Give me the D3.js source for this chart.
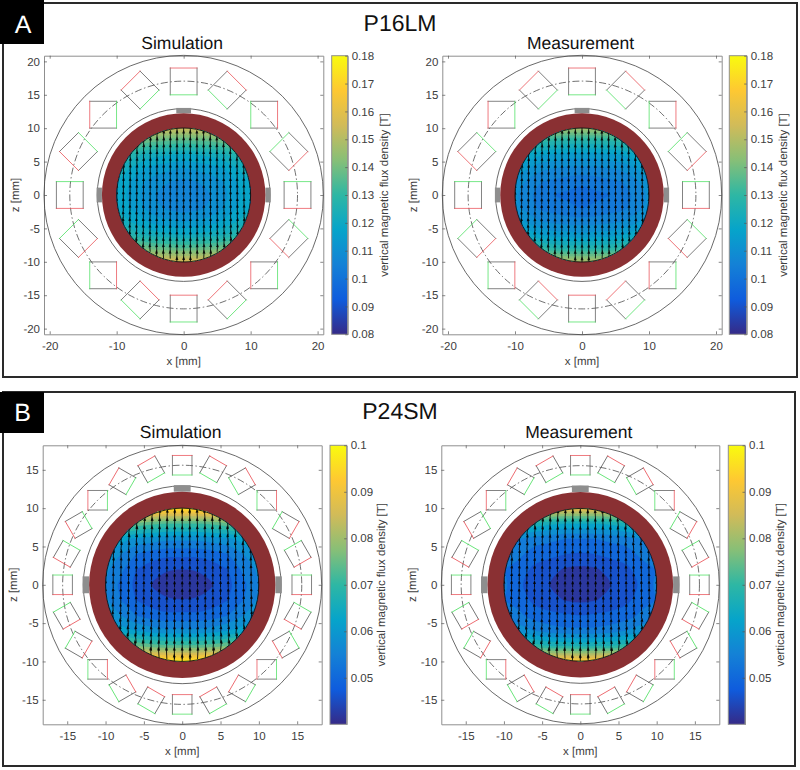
<!DOCTYPE html>
<html><head><meta charset="utf-8">
<script src="https://cdn.jsdelivr.net/npm/d3@7"></script>
<style>html,body{margin:0;padding:0;background:#fff}svg{display:block}text{font-family:"Liberation Sans",Arial,sans-serif;text-rendering:geometricPrecision}</style>
</head><body><svg id="c" width="800" height="770"></svg>
<script>
// ---------- data ----------
const figureTitles = ["P16LM", "P24SM"];
const panelLetters = ["A", "B"];
const plotTitles = ["Simulation", "Measurement"];
const colorbarLabel = "vertical magnetic flux density [T]";
const parulaStops = ["#352a87","#0f5cdd","#1481d6","#06a4ca","#2eb7a4","#87bf77","#d1bb59","#fec832","#f9fb0e"];
const ticksP16 = [-20,-15,-10,-5,0,5,10,15,20];
const xTicksP16 = [-20,-10,0,10,20];
const ticksP24 = [-15,-10,-5,0,5,10,15];
const cbarTicksP16 = [0.08,0.09,0.10,0.11,0.12,0.13,0.14,0.15,0.16,0.17,0.18];
const cbarTicksP24 = [0.05,0.06,0.07,0.08,0.09,0.10];
const magnetAnglesP16 = [0,22.5,45,67.5,90,112.5,135,157.5,180,202.5,225,247.5,270,292.5,315,337.5];
const magnetAnglesP24 = [0,15,30,45,60,75,90,105,120,135,150,165,180,195,210,225,240,255,270,285,300,315,330,345];
const gridAxis = [-12,-10,-8,-6,-4,-2,0,2,4,6,8,10,12];
const arrowAxis = [-10,-9,-8,-7,-6,-5,-4,-3,-2,-1,0,1,2,3,4,5,6,7,8,9,10];
// arrow lean in degrees at x = 10 mm, one value per row of arrowAxis (z = -10 ... 10)
const leanP16 = [-9,-8,-7,-6,-5,-4.5,-4,-3,-2,-1,0,1,2,3,4,4.5,5,6,7,8,9];
const leanP24 = [-16,-14,-12,-10,-8,-7,-5,-4,-2.5,-1,0,1,2.5,4,5,7,8,10,12,14,16];

const fieldP16Sim = [
[.175,.170,.166,.163,.161,.160,.160,.160,.161,.163,.166,.170,.175],
[.166,.161,.158,.156,.155,.154,.154,.154,.155,.156,.158,.161,.166],
[.150,.144,.141,.138,.136,.135,.134,.135,.136,.138,.141,.144,.150],
[.136,.131,.127,.123,.121,.120,.119,.120,.121,.123,.127,.131,.136],
[.130,.124,.120,.116,.114,.113,.112,.113,.114,.116,.120,.124,.130],
[.126,.120,.116,.112,.110,.108,.107,.108,.110,.112,.116,.120,.126],
[.125,.119,.115,.111,.108,.106,.105,.106,.108,.111,.115,.119,.125],
[.126,.120,.116,.112,.109,.107,.106,.107,.109,.112,.116,.120,.126],
[.130,.125,.120,.117,.114,.113,.112,.113,.114,.117,.120,.125,.130],
[.137,.132,.128,.124,.122,.121,.120,.121,.122,.124,.128,.132,.137],
[.152,.146,.143,.140,.138,.137,.136,.137,.138,.140,.143,.146,.152],
[.169,.164,.161,.159,.158,.157,.157,.157,.158,.159,.161,.164,.169],
[.178,.173,.169,.166,.164,.163,.163,.163,.164,.166,.169,.173,.178]];
const fieldP16Meas = [
[.170,.165,.160,.157,.155,.154,.154,.154,.155,.157,.160,.165,.170],
[.160,.154,.151,.149,.148,.147,.147,.147,.148,.149,.151,.154,.160],
[.142,.136,.132,.129,.127,.126,.126,.126,.127,.129,.132,.136,.142],
[.128,.123,.119,.116,.115,.114,.114,.114,.115,.116,.119,.123,.128],
[.121,.116,.112,.109,.108,.107,.107,.107,.108,.109,.112,.116,.121],
[.117,.111,.107,.104,.103,.102,.101,.102,.103,.104,.107,.111,.117],
[.115,.109,.105,.102,.100,.099,.098,.099,.100,.102,.105,.109,.115],
[.116,.110,.106,.103,.102,.101,.100,.101,.102,.103,.106,.110,.116],
[.120,.115,.111,.108,.107,.106,.106,.106,.107,.108,.111,.115,.120],
[.127,.122,.119,.116,.114,.114,.113,.114,.114,.116,.119,.122,.127],
[.141,.136,.133,.130,.128,.127,.127,.127,.128,.130,.133,.136,.141],
[.162,.156,.153,.151,.150,.149,.149,.149,.150,.151,.153,.156,.162],
[.172,.167,.163,.160,.158,.157,.157,.157,.158,.160,.163,.167,.172]];
const fieldP24Sim = [
[.115,.112,.110,.108,.107,.107,.107,.107,.107,.108,.110,.112,.115],
[.106,.102,.100,.099,.098,.097,.097,.097,.098,.099,.100,.102,.106],
[.085,.080,.077,.075,.073,.072,.072,.072,.073,.075,.077,.080,.085],
[.070,.065,.062,.059,.058,.057,.057,.057,.058,.059,.062,.065,.070],
[.064,.060,.056,.052,.050,.049,.049,.049,.050,.052,.056,.060,.064],
[.061,.057,.053,.048,.0458,.0442,.044,.0442,.0458,.048,.053,.057,.061],
[.060,.056,.051,.047,.044,.0428,.0422,.0428,.044,.047,.051,.056,.060],
[.061,.057,.052,.048,.0458,.0443,.0441,.0443,.0458,.048,.052,.057,.061],
[.064,.060,.056,.052,.050,.049,.049,.049,.050,.052,.056,.060,.064],
[.071,.066,.062,.060,.058,.057,.057,.057,.058,.060,.062,.066,.071],
[.086,.081,.078,.076,.074,.073,.073,.073,.074,.076,.078,.081,.086],
[.107,.103,.101,.100,.099,.098,.098,.098,.099,.100,.101,.103,.107],
[.116,.113,.111,.109,.108,.108,.108,.108,.108,.109,.111,.113,.116]];
const fieldP24Meas = [
[.108,.104,.102,.100,.099,.099,.099,.099,.099,.100,.102,.104,.108],
[.098,.094,.092,.091,.090,.089,.089,.089,.090,.091,.092,.094,.098],
[.077,.072,.069,.067,.065,.064,.064,.064,.065,.067,.069,.072,.077],
[.064,.059,.056,.054,.053,.052,.052,.052,.053,.054,.056,.059,.064],
[.058,.053,.053,.050,.049,.048,.0475,.048,.049,.050,.053,.053,.058],
[.056,.052,.050,.047,.0455,.0435,.043,.0435,.0455,.047,.050,.052,.056],
[.058,.053,.0485,.0465,.044,.042,.041,.042,.044,.0465,.0485,.053,.058],
[.056,.052,.050,.047,.0455,.0438,.0432,.0438,.0455,.047,.050,.052,.056],
[.058,.054,.053,.050,.049,.0485,.048,.0485,.049,.050,.053,.054,.058],
[.066,.061,.058,.056,.054,.053,.053,.053,.054,.056,.058,.061,.066],
[.081,.076,.072,.070,.068,.068,.067,.068,.068,.070,.072,.076,.081],
[.104,.099,.097,.095,.094,.094,.093,.094,.094,.095,.097,.099,.104],
[.112,.108,.106,.104,.103,.102,.102,.102,.103,.104,.106,.108,.112]];

// ---------- layout ----------
const svg = d3.select("#c");
const defs = svg.append("defs");
const grad = defs.append("linearGradient").attr("id","parula").attr("x1",0).attr("x2",0).attr("y1",1).attr("y2",0);
parulaStops.forEach((c,i)=>grad.append("stop").attr("offset",i/(parulaStops.length-1)).attr("stop-color",c));
const parula = d3.scaleLinear().domain(parulaStops.map((c,i)=>i/(parulaStops.length-1))).range(parulaStops).interpolate(d3.interpolateRgb);

const INK="#404040", BOX="#8f8f8f";
const geomP16={half:20.85,ticksX:xTicksP16,ticksY:ticksP16,cbar:[0.08,0.18],cbarTicks:cbarTicksP16,angles:magnetAnglesP16,side:4,rMag:17,rOut:20.85,ring:12.2,thin:12.9,step:0.004,lean:leanP16,vref:0.14};
const geomP24={half:18.2,ticksX:ticksP24,ticksY:ticksP24,cbar:[0.04,0.10],cbarTicks:cbarTicksP24,angles:magnetAnglesP24,side:2.55,rMag:15.6,rOut:18.2,ring:12.15,thin:12.9,step:0.004,lean:leanP24,vref:0.062};

// panel frames
[[3,3,794,374],[3,392,792,374]].forEach((r,i)=>{
  svg.append("rect").attr("x",r[0]).attr("y",r[1]).attr("width",r[2]).attr("height",r[3]).attr("fill","#fff").attr("stroke","#2a2a2a").attr("stroke-width",2);
});
[[0,0,44,44,23,32.5],[0,392,44,41,22.5,421]].forEach((b,i)=>{
  svg.append("rect").attr("x",b[0]).attr("y",b[1]).attr("width",b[2]).attr("height",b[3]).attr("fill","#000");
  svg.append("text").attr("x",b[4]).attr("y",b[5]).attr("text-anchor","middle").attr("fill","#fff").attr("font-size",25).text(panelLetters[i]);
});
[[400,30.5],[400,418.5]].forEach((p,i)=>svg.append("text").attr("x",p[0]).attr("y",p[1]).attr("text-anchor","middle").attr("font-size",23).attr("fill","#111").text(figureTitles[i]));

const plots=[
 {g:geomP16,f:fieldP16Sim,title:0,x0:44,x1:323.3,y0:55.7,y1:334.3,cx0:331.7,cx1:347.7,lab:388,tb:49,id:"a"},
 {g:geomP16,f:fieldP16Meas,title:1,x0:442.3,x1:721.7,y0:55.7,y1:334.3,cx0:729.3,cx1:746.7,lab:786.5,tb:49,id:"b"},
 {g:geomP24,f:fieldP24Sim,title:0,x0:42.7,x1:321.7,y0:445.3,y1:724.3,cx0:330,cx1:346.7,lab:385,tb:438,id:"c"},
 {g:geomP24,f:fieldP24Meas,title:1,x0:441.3,x1:719.3,y0:445.3,y1:724.3,cx0:728.3,cx1:745,lab:784,tb:438,id:"d"}];

function drawPlot(p){
  const G=p.g, h=G.half;
  const xs=d3.scaleLinear([-h,h],[p.x0,p.x1]), zs=d3.scaleLinear([-h,h],[p.y1,p.y0]);
  const pxPerMm=(p.x1-p.x0)/(2*h);
  const cx=xs(0), cy=zs(0);
  const root=svg.append("g");

  // axes
  const axisStyle=(sel)=>{sel.attr("font-size",11.5).attr("font-family",'"Liberation Sans",Arial,sans-serif');
    sel.selectAll("path").attr("stroke",BOX).attr("stroke-width",1);
    sel.selectAll("line").attr("stroke","#555").attr("stroke-width",.7);
    sel.selectAll("text").attr("fill",INK);};
  const fmt=d=>String(d);
  root.append("rect").attr("x",p.x0).attr("y",p.y0).attr("width",p.x1-p.x0).attr("height",p.y1-p.y0).attr("fill","#fff");
  root.append("g").attr("transform",`translate(0,${p.y1})`).call(d3.axisBottom(xs).tickValues(G.ticksX).tickFormat(fmt).tickSizeInner(-3).tickSizeOuter(0).tickPadding(7.5)).call(axisStyle);
  root.append("g").attr("transform",`translate(${p.x0},0)`).call(d3.axisLeft(zs).tickValues(G.ticksY).tickFormat(fmt).tickSizeInner(-3).tickSizeOuter(0).tickPadding(4)).call(axisStyle);
  root.append("g").attr("transform",`translate(0,${p.y0})`).call(d3.axisTop(xs).tickValues(G.ticksX).tickFormat("").tickSizeInner(-3).tickSizeOuter(0)).call(axisStyle);
  root.append("g").attr("transform",`translate(${p.x1},0)`).call(d3.axisRight(zs).tickValues(G.ticksY).tickFormat("").tickSizeInner(-3).tickSizeOuter(0)).call(axisStyle);

  // circles
  root.append("circle").attr("cx",cx).attr("cy",cy).attr("r",G.rOut*pxPerMm).attr("fill","none").attr("stroke","#444").attr("stroke-width",.8);
  root.append("circle").attr("cx",cx).attr("cy",cy).attr("r",G.rMag*pxPerMm).attr("fill","none").attr("stroke","#333").attr("stroke-width",.7).attr("stroke-dasharray","7 2.5 1.5 2.5");

  // magnets: red side on top at 0 deg, turning by twice the position angle
  const s=G.side*pxPerMm/2;
  G.angles.forEach(a=>{
    const t=a*Math.PI/180;
    const m=root.append("g").attr("transform",`translate(${xs(G.rMag*Math.sin(t))},${zs(G.rMag*Math.cos(t))}) rotate(${2*a})`);
    [[-s,-s,-s,s,"#5a5a5a"],[s,-s,s,s,"#5a5a5a"],[-s,-s,s,-s,"#ea4f55"],[-s,s,s,s,"#4be060"]].forEach(d=>{
      m.append("line").attr("x1",d[0]).attr("y1",d[1]).attr("x2",d[2]).attr("y2",d[3]).attr("stroke",d[4]).attr("stroke-width",.75).attr("stroke-linecap","square");
    });
  });

  // yoke
  root.append("circle").attr("cx",cx).attr("cy",cy).attr("r",G.thin*pxPerMm).attr("fill","#fff").attr("stroke","#444").attr("stroke-width",.8);
  const tabW=2.2*pxPerMm, tabL=(G.thin-G.ring+0.1)*pxPerMm, rr=G.ring*pxPerMm;
  [[cx-tabW/2,cy-rr-tabL,tabW,tabL],[cx-rr-tabL,cy-tabW/2,tabL,tabW],[cx+rr,cy-tabW/2,tabL,tabW]].forEach(r=>
    root.append("rect").attr("x",r[0]).attr("y",r[1]).attr("width",r[2]).attr("height",r[3]).attr("fill","#8e8e8e"));
  root.append("circle").attr("cx",cx).attr("cy",cy).attr("r",rr).attr("fill","#8a3033");

  // field
  const clipId="clip"+p.id;
  defs.append("clipPath").attr("id",clipId).append("circle").attr("cx",cx).attr("cy",cy).attr("r",10*pxPerMm);
  const fg=root.append("g").attr("clip-path",`url(#${clipId})`);
  const n=gridAxis.length, flat=p.f.flat();
  const step=G.step, lo=G.cbar[0], hi=G.cbar[1];
  const levels=d3.range(lo,hi+step/2,step);
  const colour=v=>parula(Math.max(0,Math.min(1,(v-lo)/(hi-lo))));
  const gx=d3.scaleLinear([0.5,n-0.5],[xs(gridAxis[0]),xs(gridAxis[n-1])]);
  const gy=d3.scaleLinear([0.5,n-0.5],[zs(gridAxis[n-1]),zs(gridAxis[0])]);
  const line=d3.line().x(d=>gx(d[0])).y(d=>gy(d[1])).curve(d3.curveCatmullRomClosed.alpha(0.5));
  fg.append("circle").attr("cx",cx).attr("cy",cy).attr("r",10.2*pxPerMm).attr("fill",colour(lo+step/2));
  d3.contours().size([n,n]).thresholds(levels)(flat).forEach(c=>{
    if(!c.coordinates.length) return;
    const dStr=c.coordinates.map(poly=>poly.map(ring=>line(ring.slice(0,-1))).join("")).join("");
    fg.append("path").attr("d",dStr).attr("fill-rule","evenodd").attr("fill",colour(c.value+step/2)).attr("stroke",colour(c.value+step/2)).attr("stroke-width",.3);
  });

  // quiver
  const val=(x,z)=>{
    const fx=(x-gridAxis[0])/2, fz=(gridAxis[n-1]-z)/2;
    const i=Math.min(n-2,Math.floor(fx)), j=Math.min(n-2,Math.floor(fz)), u=fx-i, w=fz-j;
    return (p.f[j][i]*(1-u)+p.f[j][i+1]*u)*(1-w)+(p.f[j+1][i]*(1-u)+p.f[j+1][i+1]*u)*w;
  };
  arrowAxis.forEach((z,ri)=>arrowAxis.forEach(x=>{
    if(Math.hypot(x,z)>10.05) return;
    const ang=-(x/10)*G.lean[ri]*Math.PI/180;
    const len=val(x,z)/G.vref;
    const x0=xs(x), y0=zs(z-len/2);
    const x1=xs(x+Math.sin(ang)*len), y1=zs(z-len/2+Math.cos(ang)*len);
    fg.append("line").attr("x1",x0).attr("y1",y0).attr("x2",x1).attr("y2",y1).attr("stroke","#000").attr("stroke-width",1).attr("stroke-opacity",.85);
    const deg=Math.atan2(x1-x0,y0-y1)*180/Math.PI;
    fg.append("path").attr("d","M0,-2L1.5,2L-1.5,2Z").attr("transform",`translate(${x1},${y1}) rotate(${deg})`).attr("fill","#000").attr("fill-opacity",.85);
  }));
  root.append("circle").attr("cx",cx).attr("cy",cy).attr("r",10*pxPerMm).attr("fill","none").attr("stroke","#111").attr("stroke-width",.9);

  // labels
  root.append("text").attr("x",cx-1.5).attr("y",p.tb).attr("text-anchor","middle").attr("font-size",17.5).attr("fill","#111").text(plotTitles[p.title]);
  root.append("text").attr("x",cx).attr("y",p.y1+30.7).attr("text-anchor","middle").attr("font-size",11.5).attr("fill",INK).text("x [mm]");
  root.append("text").attr("transform",`translate(${p.x0-25.5},${cy}) rotate(-90)`).attr("text-anchor","middle").attr("font-size",11.5).attr("fill",INK).text("z [mm]");

  // colorbar
  const cs=d3.scaleLinear(G.cbar,[p.y1,p.y0]);
  root.append("rect").attr("x",p.cx0).attr("y",p.y0).attr("width",p.cx1-p.cx0).attr("height",p.y1-p.y0).attr("fill","url(#parula)").attr("stroke",BOX).attr("stroke-width",1);
  root.append("g").attr("transform",`translate(${p.cx1},0)`).call(d3.axisRight(cs).tickValues(G.cbarTicks).tickFormat(fmt).tickSizeInner(-2.5).tickSizeOuter(0).tickPadding(4)).call(axisStyle);
  root.append("text").attr("transform",`translate(${p.lab},${(p.y0+p.y1)/2}) rotate(-90)`).attr("text-anchor","middle").attr("font-size",11.5).attr("fill",INK).text(colorbarLabel);
}
plots.forEach(drawPlot);
</script></body></html>
